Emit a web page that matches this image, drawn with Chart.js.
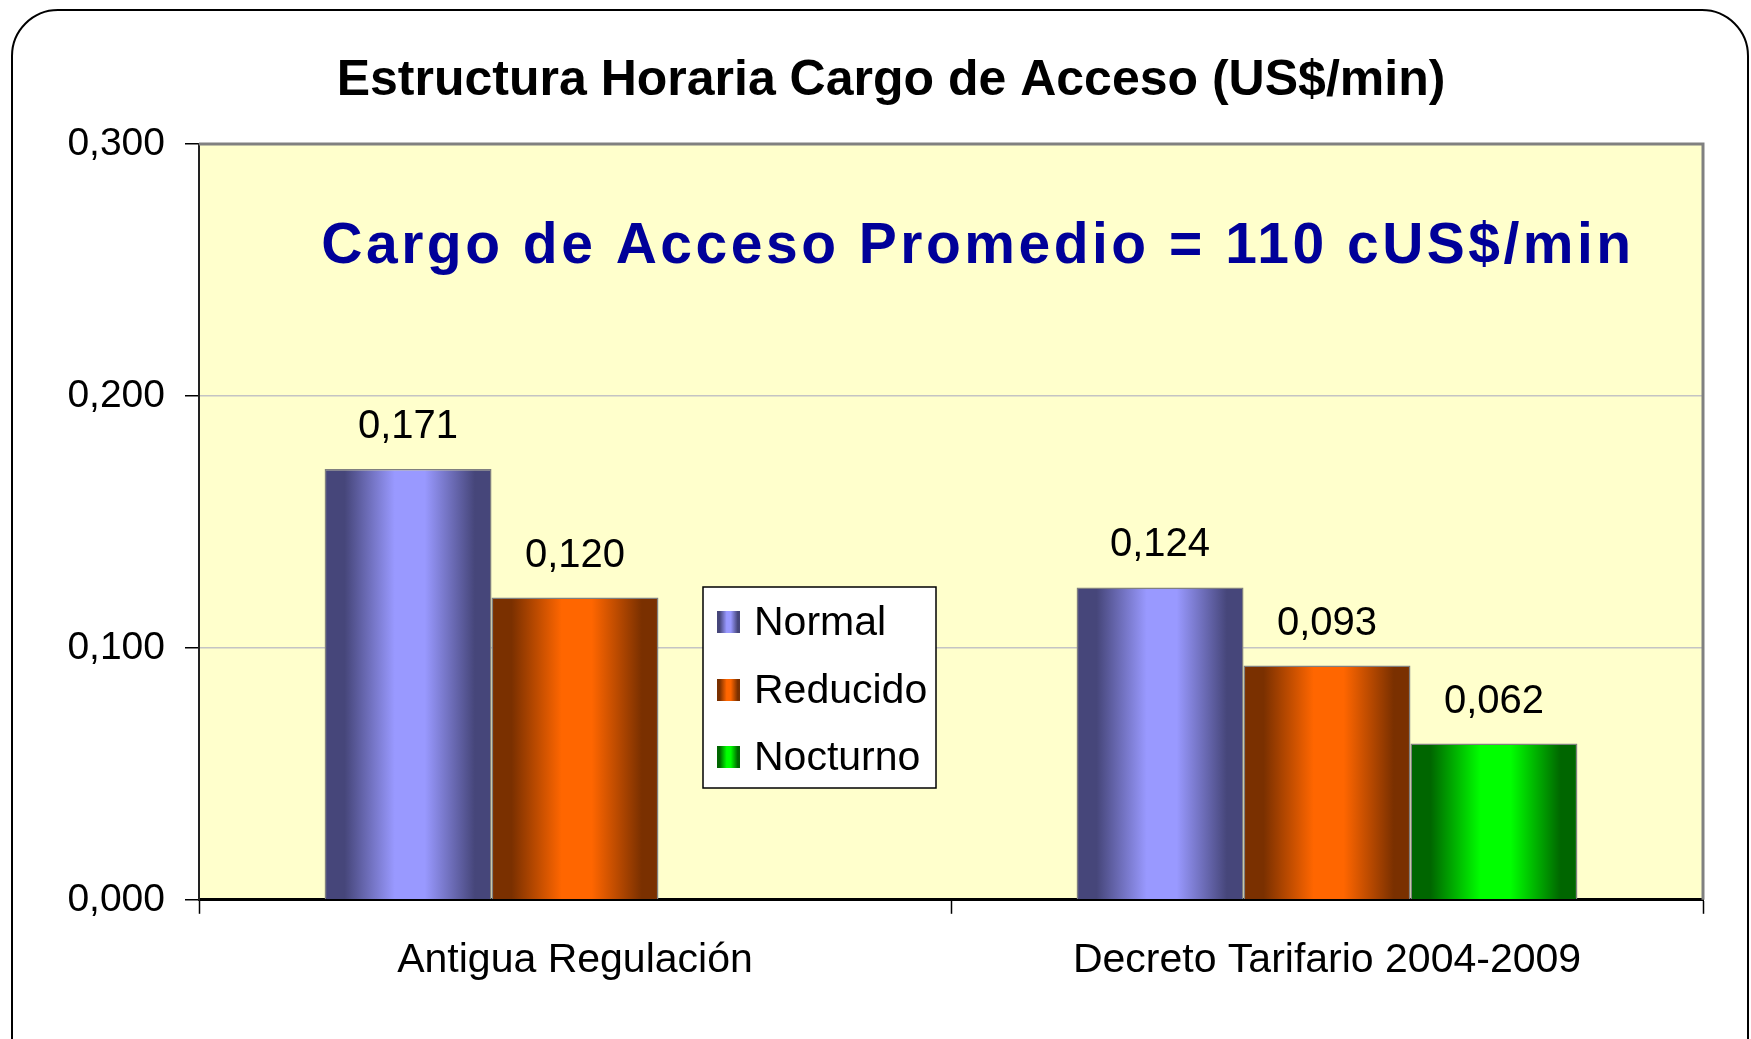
<!DOCTYPE html>
<html>
<head>
<meta charset="utf-8">
<script src="https://cdn.jsdelivr.net/npm/chart.js@4.4.1/dist/chart.umd.min.js"></script>
<style>
  html, body { margin: 0; padding: 0; background: #fff; }
  canvas { display: block; }
</style>
</head>
<body>
<canvas id="chart" width="1751" height="1039"></canvas>
<script>
// data
const categories = ['Antigua Regulación', 'Decreto Tarifario 2004-2009'];
const seriesNames = ['Normal', 'Reducido', 'Nocturno'];
const normalValues = [0.171, 0.124];
const reducidoValues = [0.120, 0.093];
const nocturnoValues = [null, 0.062];
const yTicks = [0, 0.1, 0.2, 0.3];
const title = 'Estructura Horaria Cargo de Acceso (US$/min)';
const note = 'Cargo de Acceso Promedio = 110 cUS$/min';

// bar shading: dark edge / light middle
const shades = [
  { dark: '#46467a', light: '#9999ff' },
  { dark: '#7a3000', light: '#ff6600' },
  { dark: '#006600', light: '#00ff00' }
];

const FONT = '"Liberation Sans", Arial, sans-serif';
const fmt = v => v.toFixed(3).replace('.', ',');

function barGradient(ctx, x0, x1, s) {
  const g = ctx.createLinearGradient(x0, 0, x1, 0);
  g.addColorStop(0, s.dark);
  g.addColorStop(0.12, s.dark);
  g.addColorStop(0.42, s.light);
  g.addColorStop(0.6, s.light);
  g.addColorStop(0.9, s.dark);
  g.addColorStop(1, s.dark);
  return g;
}

// white page, rounded frame, yellow plot area, title, note, value labels, legend
const backdrop = {
  id: 'backdrop',
  beforeDraw(chart) {
    const { ctx, chartArea: a } = chart;
    ctx.save();
    ctx.fillStyle = '#fff';
    ctx.fillRect(0, 0, chart.width, chart.height);
    ctx.beginPath();
    ctx.roundRect(12, 10, 1736, 1080, 46);
    ctx.lineWidth = 2;
    ctx.strokeStyle = '#000';
    ctx.stroke();
    ctx.fillStyle = '#ffffcc';
    ctx.fillRect(a.left, a.top, a.right - a.left, a.bottom - a.top);

    // title (off-centre in the original, so drawn here)
    ctx.fillStyle = '#000';
    ctx.font = 'bold 50px ' + FONT;
    ctx.textAlign = 'center';
    ctx.textBaseline = 'middle';
    ctx.fillText(title, 891, 81);
    ctx.restore();
  },
  beforeDatasetsDraw(chart) {
    // each bar gets its own options copy so the gradient follows the bar
    chart.data.datasets.forEach((ds, i) => {
      chart.getDatasetMeta(i).data.forEach(bar => {
        const x0 = bar.x - bar.width / 2;
        bar.options = Object.assign({}, bar.options, {
          backgroundColor: barGradient(chart.ctx, x0, x0 + bar.width, shades[i])
        });
      });
    });
  },
  afterDatasetsDraw(chart) {
    const { ctx, chartArea: a } = chart;
    ctx.save();
    // plot border top / right
    ctx.strokeStyle = '#808080';
    ctx.lineWidth = 3;
    ctx.beginPath();
    ctx.moveTo(a.left, a.top);
    ctx.lineTo(a.right, a.top);
    ctx.lineTo(a.right, a.bottom);
    ctx.stroke();

    // value labels
    ctx.fillStyle = '#000';
    ctx.font = '40px ' + FONT;
    ctx.textAlign = 'center';
    ctx.textBaseline = 'middle';
    chart.data.datasets.forEach((ds, i) => {
      chart.getDatasetMeta(i).data.forEach((bar, j) => {
        const v = ds.data[j];
        if (v == null) return;
        ctx.fillText(fmt(v), bar.x, bar.y - 42);
      });
    });

    // note
    ctx.fillStyle = '#000099';
    ctx.font = 'bold 57px ' + FONT;
    ctx.letterSpacing = '3.5px';
    ctx.fillText(note, 978, 247);
    ctx.letterSpacing = '0px';

    // legend box
    ctx.fillStyle = '#fff';
    ctx.fillRect(703, 587, 233, 201);
    ctx.strokeStyle = '#000';
    ctx.lineWidth = 1.5;
    ctx.strokeRect(703, 587, 233, 201);
    ctx.textAlign = 'left';
    ctx.font = '41px ' + FONT;
    const rows = [622, 690, 757];
    seriesNames.forEach((name, i) => {
      const y = rows[i];
      ctx.fillStyle = barGradient(ctx, 717, 740, shades[i]);
      ctx.fillRect(717, y - 11, 23, 22);
      ctx.fillStyle = '#000';
      ctx.fillText(name, 754, y + 2);
    });
    ctx.restore();
  }
};

const datasetValues = [normalValues, reducidoValues, nocturnoValues];

new Chart(document.getElementById('chart'), {
  type: 'bar',
  data: {
    labels: categories,
    datasets: seriesNames.map((name, i) => ({
      label: name,
      data: datasetValues[i],
      backgroundColor: shades[i].light,
      borderColor: '#808080',
      borderWidth: 1.5,
      categoryPercentage: 0.666,
      barPercentage: 1.0
    }))
  },
  options: {
    responsive: false,
    animation: false,
    layout: { padding: { left: 0, top: 144, right: 48, bottom: 32 } },
    plugins: {
      legend: { display: false },
      tooltip: { enabled: false },
      title: { display: false }
    },
    scales: {
      x: {
        offset: true,
        grid: {
          offset: true,
          drawOnChartArea: false,
          drawTicks: true,
          tickLength: 14,
          tickColor: '#000',
          tickWidth: 1.5
        },
        border: { display: true, color: '#000', width: 3 },
        ticks: {
          color: '#000',
          padding: 22,
          font: { family: FONT, size: 41 }
        }
      },
      y: {
        min: 0,
        max: 0.3,
        afterBuildTicks(scale) {
          scale.ticks = yTicks.map(v => ({ value: v }));
        },
        afterFit(scale) { scale.width = 199; },
        grid: {
          color: ctx => (ctx.tick && (ctx.tick.value === 0 || ctx.tick.value === 0.3)) ? 'rgba(0,0,0,0)' : '#c4c4c4',
          lineWidth: 1.5,
          drawTicks: true,
          tickLength: 14,
          tickColor: '#000',
          tickWidth: 1.5
        },
        border: { display: true, color: '#222', width: 2 },
        ticks: {
          color: '#000',
          padding: 20,
          font: { family: FONT, size: 39 },
          callback: v => fmt(v)
        }
      }
    }
  },
  plugins: [backdrop]
});
</script>
</body>
</html>
